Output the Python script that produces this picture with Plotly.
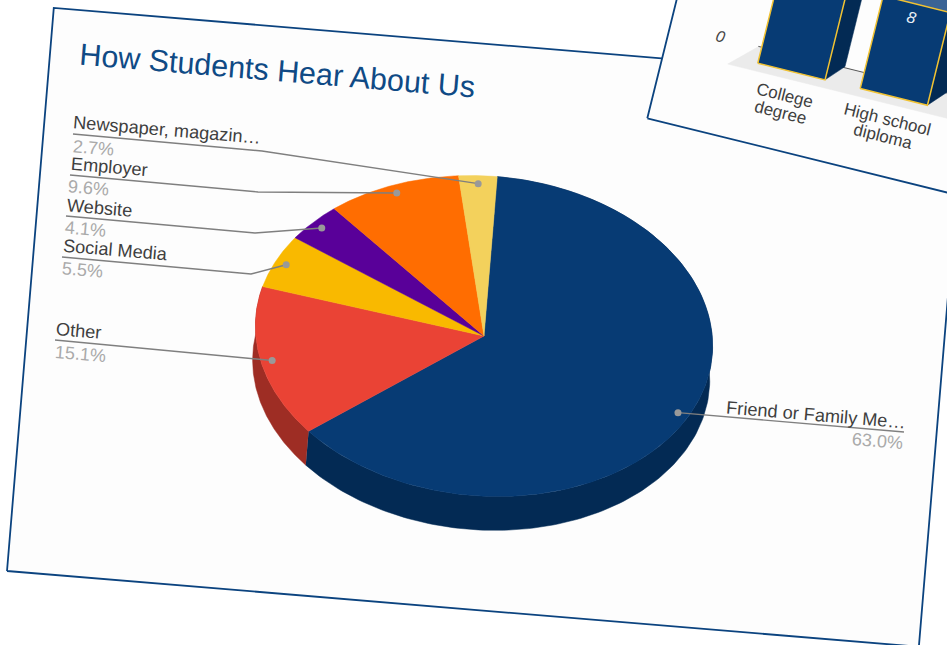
import numpy as np
import plotly.graph_objects as go

# ---- data ----
slice_labels = ["Friend or Family Me…", "Other", "Social Media", "Website", "Employer", "Newspaper, magazin…"]
slice_values = [63.0, 15.1, 5.5, 4.1, 9.6, 2.7]
slice_colors = ["#073b74", "#ea4335", "#f9b900", "#590099", "#ff6d01", "#f3d15c"]
side_colors = ["#032a54", "#9e2d24"]
bar_categories = [["College", "degree"], ["High school", "diploma"]]
bar_values = [12, 8]

W, H = 947, 645
CX, CY = 484, 336
A, B, DEPTH = 229.0, 159.9, 34
TH = np.radians(4.75)
ux, uy = np.array([np.cos(TH), np.sin(TH)]), np.array([-np.sin(TH), np.cos(TH)])

def pt(t, r=1.0, d=0.0):
    t = np.asarray(t, dtype=float)
    px = r * A * np.sin(t)
    py = -r * B * np.cos(t) + d
    return CX + px * ux[0] + py * uy[0], CY + px * ux[1] + py * uy[1]

def rot(theta, ox, oy, pts):
    c, s = np.cos(np.radians(theta)), np.sin(np.radians(theta))
    return [ox + x * c - y * s for x, y in pts], [oy + x * s + y * c for x, y in pts]

fig = go.Figure()

def poly(xs, ys, fill, line=None, lw=0):
    fig.add_trace(go.Scatter(x=list(xs), y=list(ys), mode="lines", fill="toself", fillcolor=fill,
                             line=dict(color=line or fill, width=lw if line else 0.5),
                             hoverinfo="skip", showlegend=False))

CARD = "#fdfdfd"; EDGE = "#0b437f"
S = 13.9
SO = (647.3, 118.3)

# main card
mx, my = rot(4.75, 7, 571, [(0, 0), (915, 0), (915, -565), (0, -565), (0, 0)])
poly(mx, my, CARD, EDGE, 1.8)
# small card, in front of the main one
sx, sy = rot(S, *SO, [(0, 0), (700, 0), (700, -400), (0, -400), (0, 0)])
poly(sx, sy, CARD, EDGE, 1.8)

# floor and baseline of the small chart
fx, fy = rot(S, *SO, [(65, -72), (90.5, -96), (500, -96), (500, -72), (65, -72)])
poly(fx, fy, "#ebebeb")
tx, ty = rot(S, *SO, [(90.5, -96.5), (500, -96.5)])
fig.add_trace(go.Scatter(x=tx, y=ty, mode="lines", line=dict(color="#555555", width=1), hoverinfo="skip", showlegend=False))

# bars of the small chart
PX_PER_UNIT = 95.5 / 8
bar_lefts = [94.0, 199.5]
BAR_W, BASE, DX, DY = 69.3, -80.0, 16.2, 17.7
for left, v in zip(bar_lefts, bar_values):
    h = v * PX_PER_UNIT
    x, y = rot(S, *SO, [(left + BAR_W, BASE), (left + BAR_W + DX, BASE - DY), (left + BAR_W + DX, BASE - DY - h), (left + BAR_W, BASE - h)])
    poly(x, y, "#032a54")
    x, y = rot(S, *SO, [(left, BASE - h), (left + BAR_W, BASE - h), (left + BAR_W + DX, BASE - h - DY), (left + DX, BASE - h - DY)])
    poly(x, y, "#3a6395")
    x, y = rot(S, *SO, [(left, BASE), (left + BAR_W, BASE), (left + BAR_W, BASE - h), (left, BASE - h), (left, BASE)])
    poly(x, y, "#073b74", "#f1c232", 1.5)

# pie: side walls first
vals = np.array(slice_values)
edges = np.concatenate([[0], np.cumsum(vals)]) / vals.sum() * 2 * np.pi
for i in (0, 1):
    t = np.linspace(edges[i], edges[i + 1], 180)
    x1, y1 = pt(t)
    x2, y2 = pt(t[::-1], d=DEPTH)
    poly(np.r_[x1, x2], np.r_[y1, y2], side_colors[i])

# top wedges
for i, col in enumerate(slice_colors):
    t = np.linspace(edges[i], edges[i + 1], 200)
    x, y = pt(t)
    poly(np.r_[CX, x, CX], np.r_[CY, y, CY], col)

# leader lines
mids = (edges[:-1] + edges[1:]) / 2
dots = [pt(m, 0.95) for m in mids]
rules = {0: [(904, 432)], 1: [(55, 340)],
         2: [(251, 274), (62, 257)], 3: [(255, 233), (66, 216)],
         4: [(258, 192), (70, 175)], 5: [(262, 151), (73, 134)]}
for i, (dx, dy) in enumerate(dots):
    xs = [dx] + [p[0] for p in rules[i]]
    ys = [dy] + [p[1] for p in rules[i]]
    fig.add_trace(go.Scatter(x=xs, y=ys, mode="lines", line=dict(color="#7f7f7f", width=1.4), hoverinfo="skip", showlegend=False))
fig.add_trace(go.Scatter(x=[d[0] for d in dots], y=[d[1] for d in dots], mode="markers",
                         marker=dict(color="#999999", size=7), hoverinfo="skip", showlegend=False))

def label(text, x, y, size, color, angle=4.75):
    fig.add_annotation(x=x, y=y, text=text, showarrow=False, textangle=angle, xanchor="center", yanchor="middle",
                       font=dict(family="Liberation Sans", size=size, color=color), align="center")

label("How Students Hear About Us", 277, 69.5, 30.5, "#0f4a85")
pos = {5: ((167, 129.5), (93.5, 148)), 4: ((109, 166.5), (88.5, 188)), 3: ((99, 207.5), (85, 228.5)),
       2: ((115, 249.5), (82.5, 269.5)), 1: ((79, 330.5), (80, 354)), 0: ((816, 414.5), (877, 441))}
pct = [f"{v:.1f}%" for v in slice_values]
for i, ((a, b), (c, d)) in pos.items():
    label(slice_labels[i], a, b, 18.2, "#3f3f3f")
    label(pct[i], c, d, 18, "#aaaaaa")

# small chart texts
label("<i>0</i>", 720, 36, 16, "#444444", 14)
label(f"<i>{bar_values[1]}</i>", 911.7, 17.3, 16, "#e8eef5", 14)
for (line, (lx, ly)) in zip(bar_categories[0] + bar_categories[1],
                            [(784.7, 95), (780.3, 112.7), (887.3, 119.3), (883.3, 136.7)]):
    label(line, lx, ly, 17, "#3f3f3f", 14)

fig.update_xaxes(range=[0, W], visible=False, fixedrange=True)
fig.update_yaxes(range=[H, 0], visible=False, fixedrange=True)
fig.update_layout(width=W, height=H, margin=dict(l=0, r=0, t=0, b=0), paper_bgcolor="#ffffff", plot_bgcolor="#ffffff", showlegend=False)
fig.write_html("out.html", config=dict(displayModeBar=False),
               post_script="document.body.style.margin='0';document.body.style.overflow='hidden';")
